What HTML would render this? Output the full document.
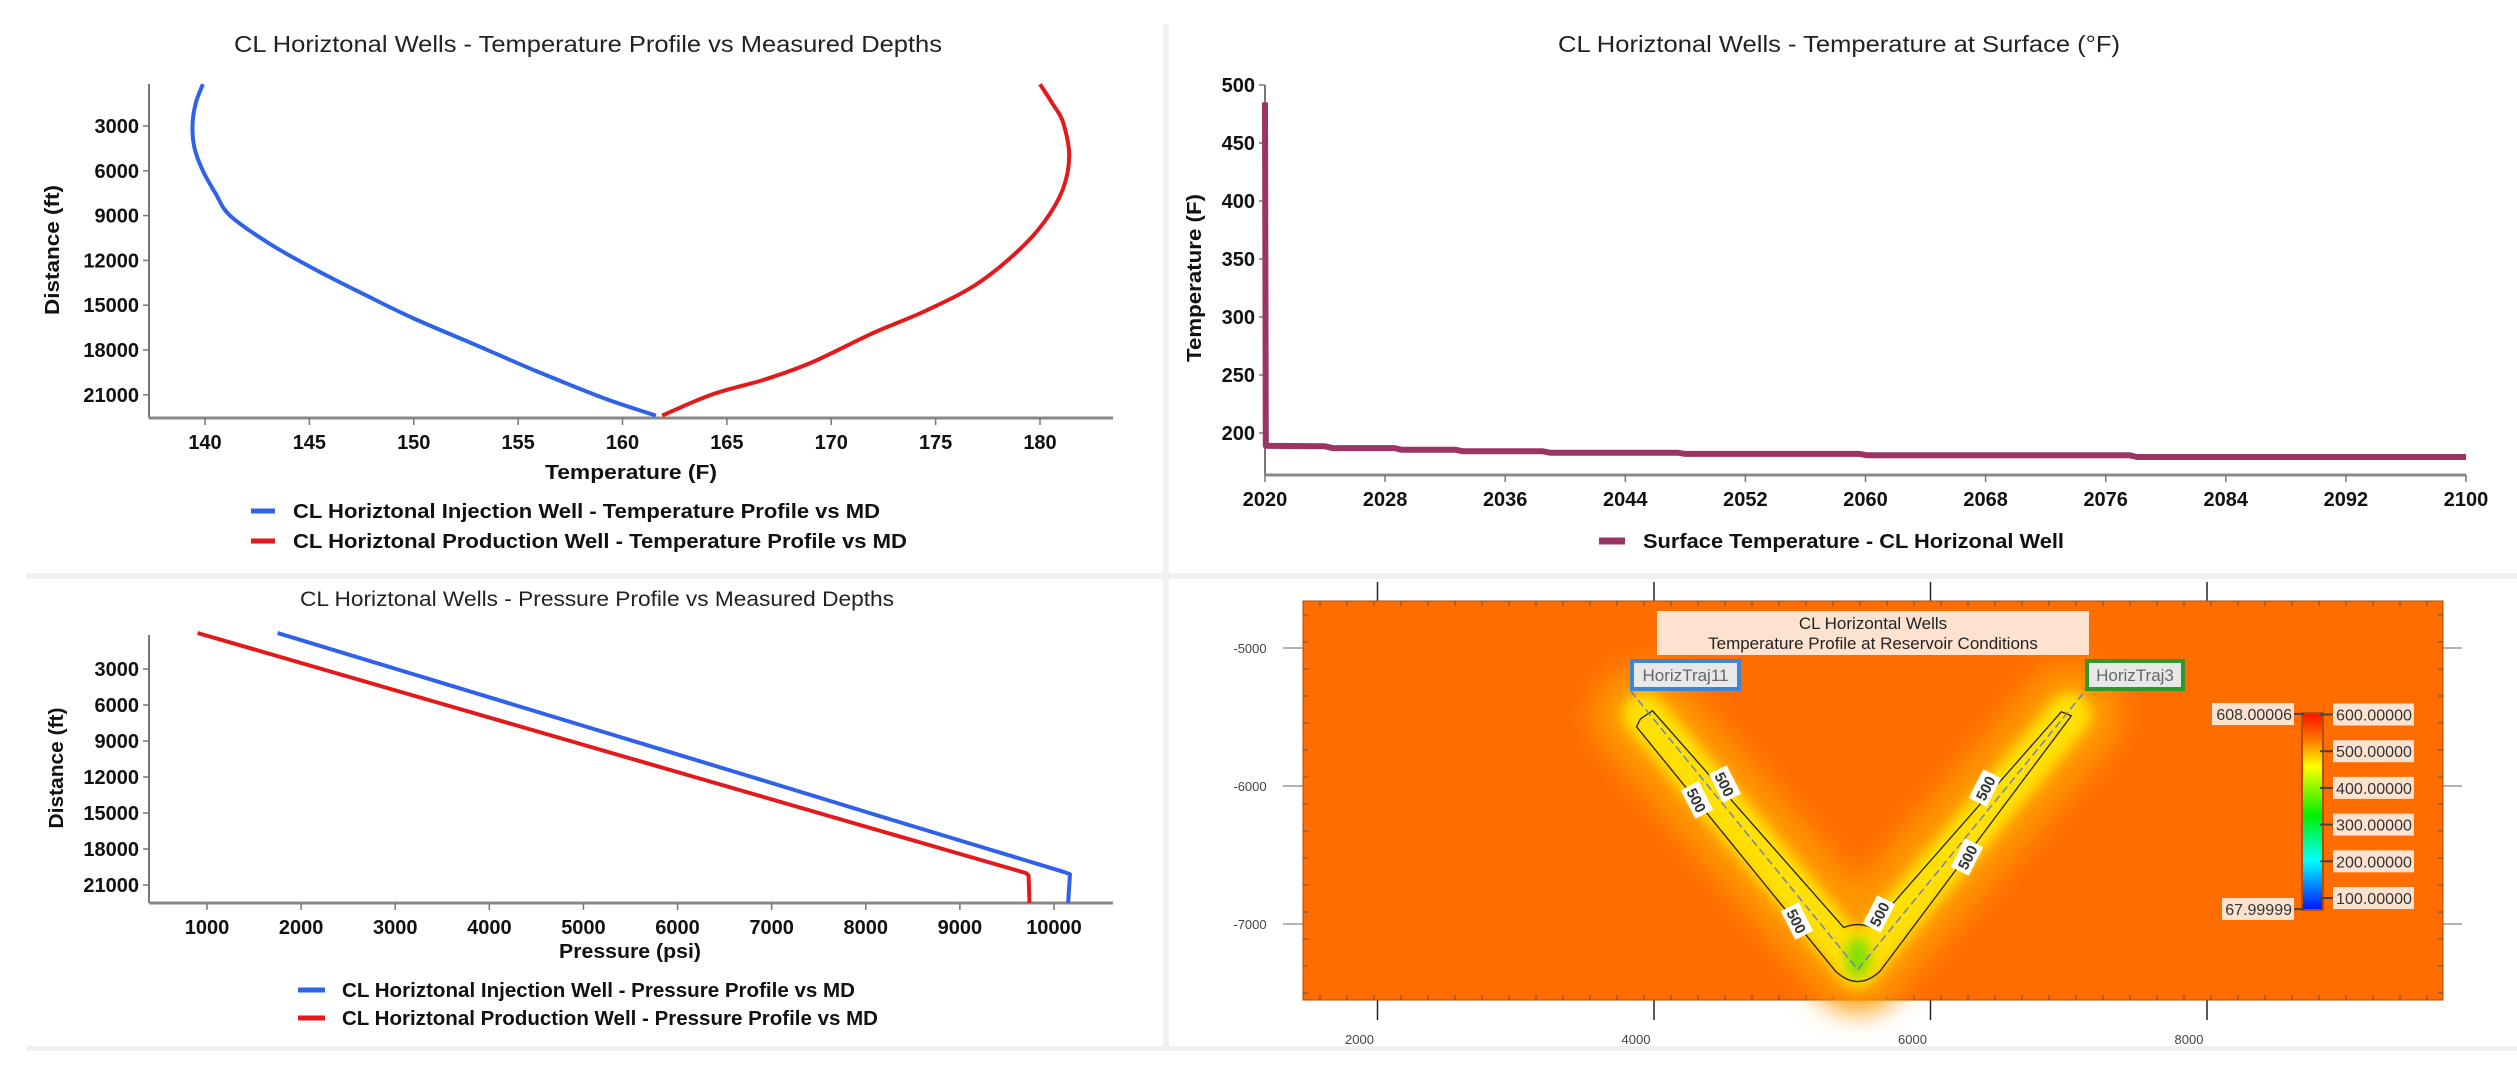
<!DOCTYPE html>
<html><head><meta charset="utf-8"><style>
html,body{margin:0;padding:0;background:#fff;width:2517px;height:1089px;overflow:hidden}
svg text{font-family:"Liberation Sans",sans-serif}
</style></head><body>
<svg id="s" width="2517" height="1089" xmlns="http://www.w3.org/2000/svg">
<defs>
<filter id="blur1" x="-50%" y="-50%" width="200%" height="200%"><feGaussianBlur stdDeviation="14"/></filter>
<filter id="blur2" x="-50%" y="-50%" width="200%" height="200%"><feGaussianBlur stdDeviation="6"/></filter>
<linearGradient id="cbar" x1="0" y1="0" x2="0" y2="1">
<stop offset="0" stop-color="#ff1000"/><stop offset="0.14" stop-color="#ff7a00"/><stop offset="0.27" stop-color="#ffff00"/><stop offset="0.52" stop-color="#00f000"/><stop offset="0.75" stop-color="#00ffff"/><stop offset="1" stop-color="#0010ff"/>
</linearGradient>
</defs>
<rect x="1163" y="24" width="6" height="1026" fill="#f0f0f0"/>
<rect x="26" y="573" width="2491" height="6" fill="#f0f0f0"/>
<rect x="26" y="1046" width="2491" height="5" fill="#f0f0f0"/>
<g id="c1"></g>
<g id="c2"></g>
<g id="c3"></g>
<g id="c4"></g>
</svg>
<script>
// ---- Chart 1 data: temperature profile vs MD
const tempDepth = [200,1500,3000,4500,6000,7500,9000,10800,12550,14400,15890,17620,19370,21220,22390];
const tempInj = [139.9,139.55,139.4,139.5,139.9,140.5,141.2,143.0,145.2,147.8,150.0,152.9,155.8,159.1,161.6];
const tempDepthProd = [200,1500,2740,4980,7210,9430,11430,13650,15390,16870,18870,19980,20970,22390];
const tempProd = [180.0,180.6,181.1,181.4,181.1,180.2,178.9,176.9,174.5,172.0,169.0,166.8,164.3,161.9];
const tempXTicks = [140,145,150,155,160,165,170,175,180];
const depthTicks = [3000,6000,9000,12000,15000,18000,21000];
// ---- Chart 2 data: surface temperature
const surfYears = [2020,2020.05,2024,2024.5,2028.6,2029.1,2032.7,2033.2,2038.5,2039,2047.5,2048,2059.6,2060.1,2077.6,2078.1,2100];
const surfTemp = [485,189,188.5,187,187,185.5,185.5,184.2,184.2,183,183,182,182,180.8,180.8,179.3,179.3];
const yearTicks = [2020,2028,2036,2044,2052,2060,2068,2076,2084,2092,2100];
const surfYTicks = [200,250,300,350,400,450,500];
// ---- Chart 3 data: pressure profile
const presDepthInj = [0,3000,6000,9000,12000,15000,18000,19900,20100,22500];
const presInj = [1750,3010,4270,5530,6790,8040,9300,10100,10170,10150];
const presDepthProd = [0,3000,6000,9000,12000,15000,18000,20000,20200,22500];
const presProd = [900,2220,3540,4860,6180,7500,8820,9700,9730,9740];
const presXTicks = [1000,2000,3000,4000,5000,6000,7000,8000,9000,10000];
// ---- Map data
const wellLeftX = [3830,5474]; const wellLeftY = [-5310,-7330];
const wellRightX = [7120,5474]; const wellRightY = [-5310,-7330];
const mapXTicks = [2000,4000,6000,8000];
const mapYTicks = [-5000,-6000,-7000];
const cbarTicks = [600,500,400,300,200,100];

const NS="http://www.w3.org/2000/svg";
function mk(parent,tag,attrs,text){const e=document.createElementNS(NS,tag);for(const k in attrs)e.setAttribute(k,attrs[k]);if(text!==undefined)e.textContent=text;parent.appendChild(e);return e;}
function lin(d0,d1,r0,r1){return v=>r0+(v-d0)/(d1-d0)*(r1-r0);}
function pts(xs,ys,fx,fy){return xs.map((x,i)=>fx(x).toFixed(1)+","+fy(ys[i]).toFixed(1)).join(" ");}
function smooth(xs,ys,fx,fy){const P=xs.map((x,i)=>[fx(x),fy(ys[i])]);let d=`M${P[0][0]},${P[0][1]}`;
  for(let i=0;i<P.length-1;i++){const p0=P[i-1]||P[i],p1=P[i],p2=P[i+1],p3=P[i+2]||p2;
   const c1=[p1[0]+(p2[0]-p0[0])/6,p1[1]+(p2[1]-p0[1])/6],c2=[p2[0]-(p3[0]-p1[0])/6,p2[1]-(p3[1]-p1[1])/6];
   d+=` C${c1[0].toFixed(1)},${c1[1].toFixed(1)} ${c2[0].toFixed(1)},${c2[1].toFixed(1)} ${p2[0].toFixed(1)},${p2[1].toFixed(1)}`;}return d;}

function axes(g,L,T,R,B,xt,fx,yt,fy,tickFont){
  let a=mk(g,'line',{x1:L,y1:T,x2:L,y2:B,stroke:'#777','stroke-width':2});
  
  a=mk(g,'line',{x1:L,y1:B,x2:R,y2:B,stroke:'#888','stroke-width':3});
  
  xt.forEach(v=>{const x=fx(v);mk(g,'line',{x1:x,y1:B,x2:x,y2:B+7,stroke:'#777','stroke-width':1.5});
    const t=mk(g,'text',{x:x,y:B+31,'text-anchor':'middle','font-size':tickFont,'font-weight':'bold',fill:'#111'},String(v));
    });
  yt.forEach(v=>{const y=fy(v);mk(g,'line',{x1:L-6,y1:y,x2:L,y2:y,stroke:'#777','stroke-width':1.5});
    const t=mk(g,'text',{x:L-10,y:y+7,'text-anchor':'end','font-size':tickFont,'font-weight':'bold',fill:'#111'},String(v));
    });
}
function title(g,x,y,txt,w,size){const t=mk(g,'text',{x:x,y:y,'text-anchor':'middle','font-size':size||22,fill:'#222',textLength:w,lengthAdjust:'spacingAndGlyphs'},txt);}
function axTitle(g,x,y,txt,w,rot){const t=mk(g,'text',{x:x,y:y,'text-anchor':'middle','font-size':20,'font-weight':'bold',fill:'#111',textLength:w,lengthAdjust:'spacingAndGlyphs'},txt);if(rot)t.setAttribute('transform',`rotate(-90 ${x} ${y})`);}
function legend(g,x0,x1,tx,y,color,txt,w,sw){const l=mk(g,'line',{x1:x0,y1:y,x2:x1,y2:y,stroke:color,'stroke-width':sw||5});
  const t=mk(g,'text',{x:tx,y:y+7,'font-size':20,'font-weight':'bold',fill:'#111',textLength:w,lengthAdjust:'spacingAndGlyphs'},txt);}

// ---------- Chart 1
(function(){const g=document.getElementById('c1');
 const L=149,R=1113,T=84,B=418;
 const fx=lin(140,180,205,1040), fy=lin(0,3000,81.2,126);
 title(g,588,52,'CL Horiztonal Wells - Temperature Profile vs Measured Depths',708,23);
 axes(g,L,T,R,B,tempXTicks,fx,depthTicks,fy,20);
 let p=mk(g,'path',{d:smooth(tempInj,tempDepth,fx,fy),fill:'none',stroke:'#2f62e8','stroke-width':4,'stroke-linejoin':'round'});
 
 p=mk(g,'path',{d:smooth(tempProd,tempDepthProd,fx,fy),fill:'none',stroke:'#e31a1c','stroke-width':4,'stroke-linejoin':'round'});
 
 axTitle(g,631,479,'Temperature (F)',172);
 axTitle(g,59,250,'Distance (ft)',130,true);
 legend(g,251,275,293,511,'#2f62e8','CL Horiztonal Injection Well - Temperature Profile vs MD',587);
 legend(g,251,275,293,541,'#e31a1c','CL Horiztonal Production Well - Temperature Profile vs MD',614);
})();
// ---------- Chart 2
(function(){const g=document.getElementById('c2');
 const L=1265,R=2466,T=85,B=475;
 const fx=lin(2020,2100,L,R), fy=lin(200,500,433,85);
 title(g,1839,52,'CL Horiztonal Wells - Temperature at Surface (°F)',562,23);
 axes(g,L,T,R,B,yearTicks,fx,surfYTicks,fy,20);
 const p=mk(g,'polyline',{points:pts(surfYears,surfTemp,fx,fy),fill:'none',stroke:'#9b3462','stroke-width':6,'stroke-linejoin':'round'});
 
 axTitle(g,1201,278,'Temperature (F)',168,true);
 legend(g,1599,1625,1643,541,'#9b3462','Surface Temperature - CL Horizonal Well',421,7);
})();
// ---------- Chart 3
(function(){const g=document.getElementById('c3');
 const L=149,R=1113,T=635,B=903;
 const fx=lin(1000,10000,207,1054), fy=lin(0,3000,633,669);
 title(g,597,606,'CL Horiztonal Wells - Pressure Profile vs Measured Depths',594,21);
 axes(g,L,T,R,B,presXTicks,fx,depthTicks,fy,20);
 let p=mk(g,'polyline',{points:pts(presInj,presDepthInj,fx,fy),fill:'none',stroke:'#2f62e8','stroke-width':4,'stroke-linejoin':'round'});
 
 p=mk(g,'polyline',{points:pts(presProd,presDepthProd,fx,fy),fill:'none',stroke:'#e31a1c','stroke-width':4,'stroke-linejoin':'round'});
 
 axTitle(g,630,958,'Pressure (psi)',142);
 axTitle(g,63,768,'Distance (ft)',121,true);
 legend(g,298,325,342,990,'#2f62e8','CL Horiztonal Injection Well - Pressure Profile vs MD',513);
 legend(g,298,325,342,1018,'#e31a1c','CL Horiztonal Production Well - Pressure Profile vs MD',536);
})();
// ---------- Map
(function(){const g=document.getElementById('c4');
 const fx=lin(2000,4000,1377.5,1654), fy=lin(-5000,-6000,648,786);
 mapXTicks.forEach(v=>{const x=fx(v);mk(g,'line',{x1:x,y1:582,x2:x,y2:1020,stroke:'#222','stroke-width':1.5});
   const t=mk(g,'text',{x:x-18,y:1044,'text-anchor':'middle','font-size':13,fill:'#444'},String(v));});
 mapYTicks.forEach(v=>{const y=fy(v);mk(g,'line',{x1:1283,y1:y,x2:2462,y2:y,stroke:'#999','stroke-width':1.5});
   const t=mk(g,'text',{x:1250,y:y+5,'text-anchor':'middle','font-size':13,fill:'#444'},String(v));});
 const bg=mk(g,'rect',{x:1303,y:601,width:1140,height:399,fill:'#ff6d00',stroke:'#b04a00','stroke-width':1});
 
 for(let x=1320;x<2440;x+=27){mk(g,'line',{x1:x,y1:601,x2:x,y2:606,stroke:'#555','stroke-width':1});mk(g,'line',{x1:x,y1:995,x2:x,y2:1000,stroke:'#555','stroke-width':1});}
 for(let y=615;y<1000;y+=27){mk(g,'line',{x1:1303,y1:y,x2:1308,y2:y,stroke:'#555','stroke-width':1});mk(g,'line',{x1:2438,y1:y,x2:2443,y2:y,stroke:'#555','stroke-width':1});}
 const gc=mk(g,'g',{});
 const lx=wellLeftX.map(fx), ly=wellLeftY.map(fy), rx=wellRightX.map(fx), ry=wellRightY.map(fy);
 const vpath=`M${lx[0]},${ly[0]} L${lx[1]},${ly[1]} L${rx[0]},${ry[0]}`;
 mk(gc,'path',{d:`M${lx[0]+12},${ly[0]+24} L${lx[1]},${ly[1]-8} L${rx[0]-14},${ry[0]+24}`,fill:'none',stroke:'#ff9800','stroke-width':100,'stroke-linejoin':'round','stroke-linecap':'round',filter:'url(#blur1)'});
 const glow=mk(gc,'path',{d:`M${lx[0]+14},${ly[0]+24} L${lx[1]},${ly[1]-4} L${rx[0]-16},${ry[0]+24}`,fill:'none',stroke:'#ffe000','stroke-width':44,'stroke-linejoin':'round','stroke-linecap':'round',filter:'url(#blur2)'});
 
 mk(gc,'ellipse',{cx:lx[1],cy:ly[1]-12,rx:12,ry:20,fill:'#7fe000',filter:'url(#blur2)'});
 const cx=lx[1];
 const cont=`M${lx[0]+10},${ly[0]+28} L${lx[0]+22},${ly[0]+20} L${cx-14},${ly[1]-42} Q${cx},${ly[1]-48} ${cx+14},${ly[1]-42} L${rx[0]-24},${ry[0]+21} L${rx[0]-14},${ry[0]+25} L${cx+22},${ly[1]+2} Q${cx},${ly[1]+22} ${cx-22},${ly[1]+2} L${lx[0]+6},${ly[0]+36} Z`;
 const c=mk(g,'path',{d:cont,fill:'none',stroke:'#222','stroke-width':1.3});
 
 const w=mk(g,'path',{d:vpath,fill:'none',stroke:'#7080c0','stroke-width':1.5,'stroke-dasharray':'8 4'});
 
 [[1725,784,63],[1697,800,63],[1797,921,63],[1879,914,-63],[1985,788,-63],[1967,857,-63]].forEach(a=>{
   const gg=mk(g,'g',{transform:`translate(${a[0]},${a[1]}) rotate(${a[2]})`});
   
   mk(gg,'rect',{x:-16,y:-10,width:32,height:20,fill:'#fff'});
   mk(gg,'text',{x:0,y:6,'text-anchor':'middle','font-size':15,'font-weight':'bold',fill:'#333'},'500');});
 const tb=mk(g,'g',{});
 mk(tb,'rect',{x:1657,y:611,width:432,height:44,fill:'#fde3cf'});
 mk(tb,'text',{x:1873,y:629,'text-anchor':'middle','font-size':17,fill:'#222'},'CL Horizontal Wells');
 mk(tb,'text',{x:1873,y:649,'text-anchor':'middle','font-size':17,fill:'#222'},'Temperature Profile at Reservoir Conditions');
 [[1630,111,'#3b86d6','HorizTraj11','well-label-horiztraj11'],[2085,100,'#2e9a2e','HorizTraj3','well-label-horiztraj3']].forEach(b=>{
   const gg=mk(g,'g',{});
   mk(gg,'rect',{x:b[0]+2,y:661,width:b[1]-4,height:28,fill:'#e8e8e8',stroke:b[2],'stroke-width':4});
   mk(gg,'text',{x:b[0]+b[1]/2,y:681,'text-anchor':'middle','font-size':17,fill:'#666'},b[3]);});
 const cb=mk(g,'rect',{x:2302,y:713,width:21,height:197,fill:'url(#cbar)',stroke:'#b05000','stroke-width':2});
 
 const fc=lin(600,100,714.5,898);
 cbarTicks.forEach(v=>{const y=fc(v);mk(g,'line',{x1:2320,y1:y,x2:2333,y2:y,stroke:'#444','stroke-width':2});
   mk(g,'rect',{x:2333,y:y-11,width:81,height:22,fill:'#fde3cf'});
   const t=mk(g,'text',{x:2336,y:y+6,'font-size':16,fill:'#333',textLength:76,lengthAdjust:'spacingAndGlyphs'},v.toFixed(5));
   });
 [[714,'608.00006',2212],[909,'67.99999',2222]].forEach(a=>{mk(g,'line',{x1:2294,y1:a[0],x2:2304,y2:a[0],stroke:'#444','stroke-width':2});
   mk(g,'rect',{x:a[2],y:a[0]-11,width:2294-a[2],height:22,fill:'#fde3cf'});
   const t=mk(g,'text',{x:2292,y:a[0]+6,'text-anchor':'end','font-size':16,fill:'#333'},a[1]);
   });
})();
</script>
</body></html>
